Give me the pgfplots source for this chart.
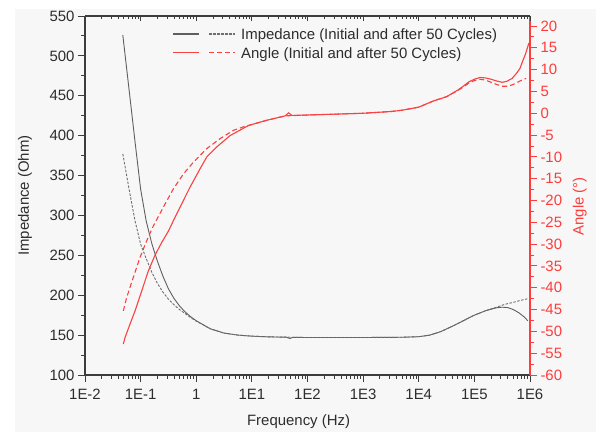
\documentclass[border=0pt]{standalone}
\usepackage{pgfplots}
\pgfplotsset{compat=1.18}
\usepackage{fontspec}
\setmainfont{Liberation Sans}
\definecolor{bg}{RGB}{247,247,247}
\definecolor{axgray}{RGB}{60,60,60}
\definecolor{txtgray}{RGB}{45,45,45}
\definecolor{impgray}{RGB}{95,95,95}
\definecolor{impgray2}{RGB}{110,110,110}
\definecolor{angred}{RGB}{248,65,65}
\definecolor{axred}{RGB}{255,60,60}
\newcommand{\chartfont}{\fontsize{15}{18}\selectfont}
\tikzset{
  impsolid/.style={color=impgray, line width=0.9bp},
  impdash/.style={color=impgray2, line width=0.9bp, dash pattern=on 2.5bp off 1.5bp},
  angsolid/.style={color=angred, line width=1.1bp},
  angdash/.style={color=angred, line width=1.1bp, dash pattern=on 5bp off 3bp},
}
\begin{document}
\begin{tikzpicture}
\useasboundingbox (0,0) rectangle (596bp,432bp);
\fill[white] (0,0) rectangle (596bp,432bp);
\fill[bg] (15bp,0) rectangle (596bp,423bp);

% ---------- Impedance (left axis) ----------
\begin{axis}[at={(85bp,57bp)}, anchor=south west, width=445bp, height=359bp,
  scale only axis, xmode=log, xmin=0.01, xmax=1e6,
  xtick={0.01,0.1,1,10,100,1000,10000,100000,1000000},
  minor xtick={0.02,0.03,0.04,0.05,0.06,0.07,0.08,0.09,0.2,0.3,0.4,0.5,0.6,0.7,0.8,0.9,2,3,4,5,6,7,8,9,20,30,40,50,60,70,80,90,200,300,400,500,600,700,800,900,2000,3000,4000,5000,6000,7000,8000,9000,20000,30000,40000,50000,60000,70000,80000,90000,200000,300000,400000,500000,600000,700000,800000,900000},
  ymin=100, ymax=550,
  axis x line*=bottom, axis y line*=left, tick align=outside,
  axis line style={axgray, line width=1.2bp},
  tick style={axgray, line width=0.9bp},
  major tick length=7bp, minor tick length=4bp,
  xticklabels={1E-2,1E-1,1,1E1,1E2,1E3,1E4,1E5,1E6},
  ytick={100,150,...,550}, minor y tick num=1,
  tick label style={font=\chartfont, text=txtgray},
  xticklabel style={yshift=-4bp},
  /pgf/number format/assume math mode=true,
  xlabel={Frequency (Hz)}, ylabel={Impedance (Ohm)},
  label style={font=\chartfont, text=txtgray},
  xlabel style={at={(axis description cs:0.48,-0.131)}, anchor=center},
  ylabel style={at={(axis description cs:-0.1348,0.5)}, anchor=center},
]
\addplot[impsolid] coordinates {
(0.047863,526) (0.063096,453) (0.079433,392) (0.1,333) (0.12589,293)
(0.15849,265) (0.19953,243) (0.25119,224) (0.31623,208) (0.39811,196)
(0.50119,186.5) (0.63096,179) (0.79433,173) (1,168) (1.7783,158)
(3.1623,152.5) (5.6234,150) (10,148.7) (19.953,147.8) (41.687,147.4)
(47.863,145.8) (54.954,147.2) (100,147) (1000,147) (5011.9,147.3)
(10000,148) (15849,150) (25119,154.5) (39811,161) (63096,168)
(100000,175) (158490,180.5) (251190,184.3) (316230,185) (398110,184.5)
(501190,182) (630960,178) (794330,172.5) (912010,168)
};
\addplot[impdash] coordinates {
(0.047863,377) (0.063096,330) (0.079433,293) (0.1,264) (0.12589,246)
(0.15849,229) (0.19953,215) (0.25119,204) (0.31623,195) (0.39811,188)
(0.50119,182) (0.63096,177) (0.79433,172) (1,167.5) (1.7783,158)
(3.1623,152.5) (5.6234,150) (10,148.7) (19.953,147.8) (100,147)
(1000,147) (5011.9,147.3) (10000,148) (15849,150) (25119,154.5)
(39811,161) (63096,168) (100000,175) (158490,180.5) (199530,183)
(251190,185) (316230,187.5) (398110,189.5) (501190,191) (630960,193)
(891250,195.5)
};
\end{axis}

% ---------- Angle (right axis) ----------
\begin{axis}[at={(85bp,57bp)}, anchor=south west, width=445bp, height=359bp,
  scale only axis, xmode=log, xmin=0.01, xmax=1e6,
  ymin=-60, ymax=22.3,
  axis y line*=right, axis x line=none, tick align=outside,
  axis line style={axred, line width=1.3bp},
  tick style={axred, line width=0.9bp},
  major tick length=7bp, minor tick length=4bp,
  ytick={-60,-55,...,20},
  yticklabels={-60,-55,-50,-45,-40,-35,-30,-25,-20,-15,-10,-5,0,5,10,15,20},
  minor y tick num=1,
  yticklabel style={font=\chartfont, text=axred},
  ylabel={Angle (°)},
  ylabel style={font=\chartfont, text=axred, at={(axis description cs:1.112,0.47)}, anchor=center},
]
\addplot[angsolid] coordinates {
(0.048865,-52.9) (0.052481,-51.4) (0.064565,-48.3) (0.079433,-45.3)
(0.10471,-40.7) (0.13804,-36.1) (0.18197,-32.5) (0.23988,-29.6)
(0.31623,-27.0) (0.38905,-24.6) (0.51286,-21.5) (0.77625,-16.9)
(1.1749,-12.7) (1.5488,-10.0) (2.3442,-7.7) (4.0738,-5.1) (8.7096,-2.8)
(18.621,-1.6) (39.811,-0.6) (45.709,0.1) (52.481,-0.5) (100,-0.4)
(316.23,-0.2) (1000,0) (3162.3,0.4) (5011.9,0.7) (10000,1.4)
(18197,2.8) (31623,3.8) (50119,5.3) (63096,6.2) (79433,7.2)
(100000,7.8) (125890,8.2) (158490,8.1) (199530,7.8) (251190,7.4)
(316230,7.1) (380190,7.3) (478630,8.0) (575440,9.2) (660690,10.3)
(741310,12.0) (831760,13.6) (954990,16.1)
};
\addplot[angdash] coordinates {
(0.048865,-45.3) (0.056234,-42.2) (0.074131,-37.6) (0.097724,-33.0)
(0.12882,-29.2) (0.16982,-25.8) (0.25704,-21.5) (0.38905,-17.3)
(0.58884,-13.9) (0.89125,-11.2) (1.5488,-8.1) (2.6915,-5.8)
(4.6774,-3.9) (7.0795,-3.1) (8.7096,-2.8) (18.621,-1.6) (39.811,-0.6)
(100,-0.4) (316.23,-0.2) (1000,0) (3162.3,0.4) (5011.9,0.7)
(10000,1.4) (18197,2.8) (31623,3.8) (50119,5.2) (63096,6.0)
(79433,6.9) (100000,7.5) (125890,7.8) (158490,7.6) (199530,7.1)
(251190,6.6) (316230,6.2) (398110,6.2) (501190,6.6) (575440,7.0)
(660690,7.4) (851380,8.0)
};
\end{axis}

% ---------- Top axis (inward ticks) ----------
\begin{axis}[at={(85bp,57bp)}, anchor=south west, width=445bp, height=359bp,
  scale only axis, xmode=log, xmin=0.01, xmax=1e6,
  xtick={0.01,0.1,1,10,100,1000,10000,100000,1000000},
  minor xtick={0.02,0.03,0.04,0.05,0.06,0.07,0.08,0.09,0.2,0.3,0.4,0.5,0.6,0.7,0.8,0.9,2,3,4,5,6,7,8,9,20,30,40,50,60,70,80,90,200,300,400,500,600,700,800,900,2000,3000,4000,5000,6000,7000,8000,9000,20000,30000,40000,50000,60000,70000,80000,90000,200000,300000,400000,500000,600000,700000,800000,900000},
  ymin=0, ymax=1,
  axis x line*=top, axis y line=none, tick align=inside,
  axis line style={axgray, line width=1.2bp},
  tick style={axgray, line width=0.9bp},
  major tick length=5bp, minor tick length=3bp,
  xticklabels={},
]
\addplot[draw=none, forget plot] coordinates {(1,0.5)};
\end{axis}

% ---------- Legend ----------
\draw[impsolid, line width=1.3bp] (173bp,398bp) -- (199bp,398bp);
\draw[impdash, line width=1.3bp] (209bp,398bp) -- (235bp,398bp);
\node[anchor=base west, inner sep=0pt, font=\chartfont, text=txtgray] at (241bp,392.6bp) {Impedance (Initial and after 50 Cycles)};
\draw[angsolid, line width=1.5bp] (173bp,379.3bp) -- (199bp,379.3bp);
\draw[angdash, line width=1.5bp] (209bp,379.3bp) -- (235bp,379.3bp);
\node[anchor=base west, inner sep=0pt, font=\chartfont, text=txtgray] at (241bp,373.9bp) {Angle (Initial and after 50 Cycles)};
\end{tikzpicture}
\end{document}
